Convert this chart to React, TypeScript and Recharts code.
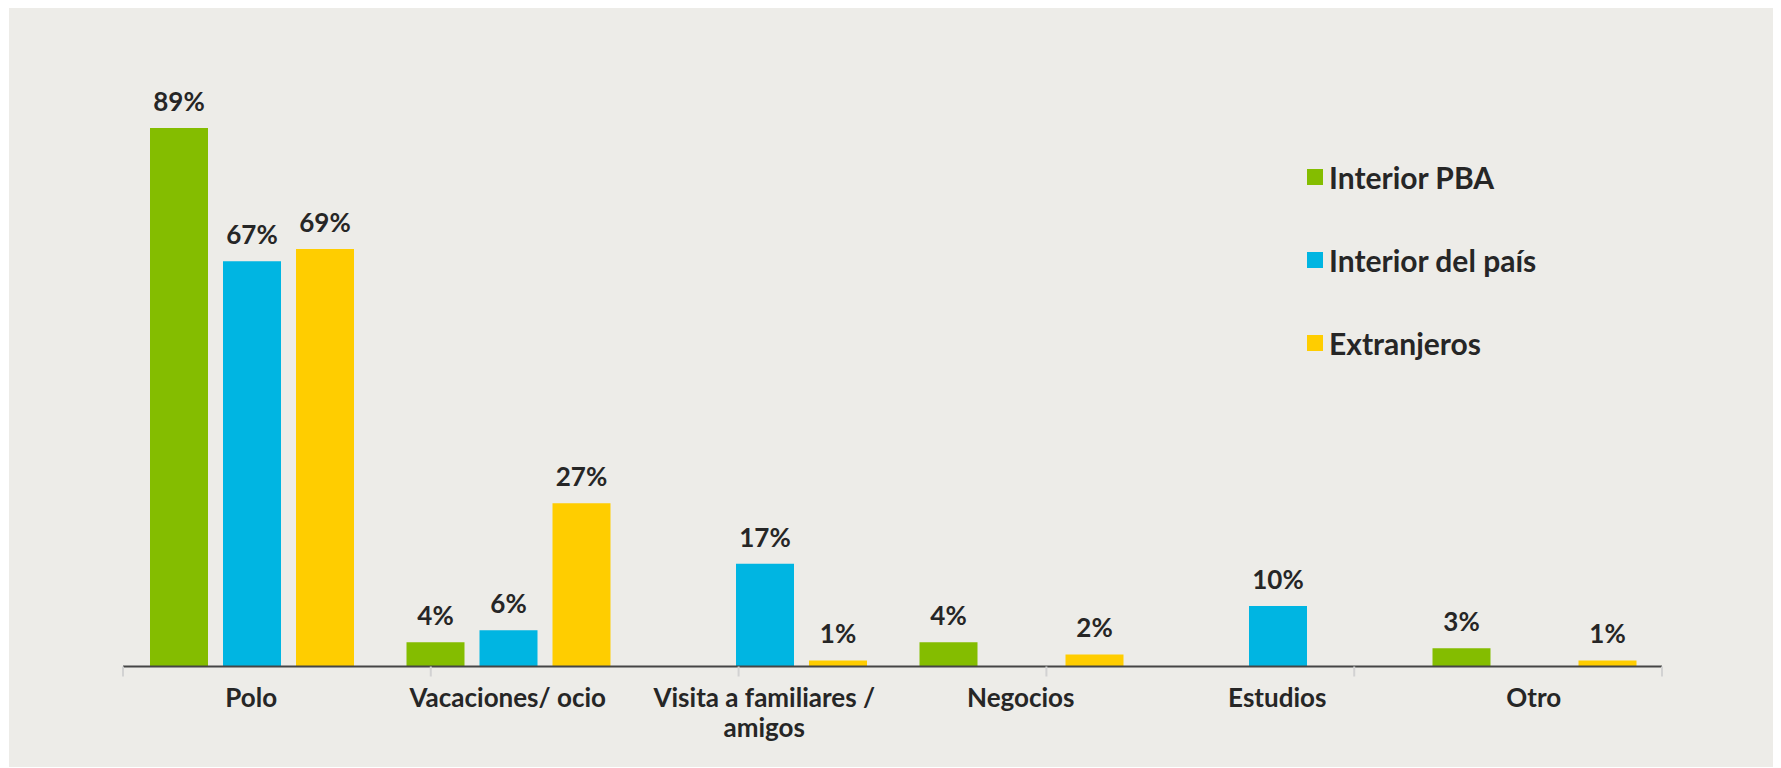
import React from "react";
import {
  BarChart,
  Bar,
  XAxis,
  YAxis,
  LabelList,
  Legend,
} from "recharts";

const CATEGORIES = [
  "Polo",
  "Vacaciones/ ocio",
  "Visita a familiares /\namigos",
  "Negocios",
  "Estudios",
  "Otro",
];
const INTERIOR_PBA = [89, 4, null, 4, null, 3];
const INTERIOR_PAIS = [67, 6, 17, null, 10, null];
const EXTRANJEROS = [69, 27, 1, 2, null, 1];
const EDGE_TICKS = [0, 1, 2, 3, 4, 5, 6];

const GREEN = "#84BD00";
const BLUE = "#00B5E2";
const YELLOW = "#FFCD00";
const TEXT = "#262626";
const FONT = "Lato, 'Open Sans', sans-serif";

const data = CATEGORIES.map((cat, i) => ({
  cat,
  pba: INTERIOR_PBA[i],
  pais: INTERIOR_PAIS[i],
  ext: EXTRANJEROS[i],
}));

function pct(v: any) {
  if (v === null || v === undefined) return "";
  return `${v}%`;
}

function CategoryTick({ x, y, payload }: any) {
  const lines = String(payload.value).split("\n");
  return (
    <text
      x={x}
      y={y}
      textAnchor="middle"
      fill={TEXT}
      fontSize={26}
      fontWeight={700}
      fontFamily={FONT}
    >
      {lines.map((line, i) => (
        <tspan key={i} x={x} dy={i === 0 ? 39 : 30}>
          {line}
        </tspan>
      ))}
    </text>
  );
}

function EmptyTick() {
  return <g />;
}

function LegendContent({ payload }: any) {
  return (
    <div style={{ display: "flex", flexDirection: "column", gap: 43 }}>
      {(payload || []).map((entry: any) => (
        <div
          key={entry.value}
          style={{ display: "flex", alignItems: "center", height: 40 }}
        >
          <span
            style={{
              width: 16,
              height: 16,
              background: entry.color,
              marginRight: 6,
              display: "inline-block",
            }}
          />
          <span
            style={{
              fontFamily: FONT,
              fontWeight: 700,
              fontSize: 30,
              color: TEXT,
              whiteSpace: "nowrap",
            }}
          >
            {entry.value}
          </span>
        </div>
      ))}
    </div>
  );
}

const labelStyle = {
  fill: TEXT,
  fontSize: 26,
  fontWeight: 700,
  fontFamily: FONT,
};

export default function App() {
  return (
    <div
      style={{
        width: 1772,
        height: 760,
        marginLeft: 1,
        marginTop: -1,
        background: "#EDECE8",
      }}
    >
      <BarChart
        width={1772}
        height={760}
        data={data}
        margin={{ top: 54.5, right: 119, left: 114, bottom: 0 }}
        barCategoryGap={27}
        barGap={15}
      >
        <XAxis
          xAxisId="cat"
          dataKey="cat"
          height={99.5}
          axisLine={false}
          tickLine={false}
          tickSize={0}
          tickMargin={0}
          interval={0}
          tick={<CategoryTick />}
        />
        <XAxis
          xAxisId="boundary"
          type="number"
          domain={[0, 6]}
          ticks={EDGE_TICKS}
          interval={0}
          allowDataOverflow
          height={1}
          tick={<EmptyTick />}
          tickSize={10}
          axisLine={{ stroke: "#454545", strokeWidth: 2 }}
          tickLine={{ stroke: "#D2D2D2", strokeWidth: 2 }}
        />
        <YAxis hide domain={[0, 100]} />
        <Legend
          layout="horizontal"
          verticalAlign="middle"
          align="center"
          itemSorter={null}
          wrapperStyle={{ top: 150, left: 1298, width: "auto" }}
          content={<LegendContent />}
        />
        <Bar
          xAxisId="cat"
          dataKey="pba"
          name="Interior PBA"
          fill={GREEN}
          isAnimationActive={false}
        >
          <LabelList dataKey="pba" position="top" offset={17} formatter={pct} style={labelStyle} />
        </Bar>
        <Bar
          xAxisId="cat"
          dataKey="pais"
          name="Interior del país"
          fill={BLUE}
          isAnimationActive={false}
        >
          <LabelList dataKey="pais" position="top" offset={17} formatter={pct} style={labelStyle} />
        </Bar>
        <Bar
          xAxisId="cat"
          dataKey="ext"
          name="Extranjeros"
          fill={YELLOW}
          isAnimationActive={false}
        >
          <LabelList dataKey="ext" position="top" offset={17} formatter={pct} style={labelStyle} />
        </Bar>
      </BarChart>
    </div>
  );
}
